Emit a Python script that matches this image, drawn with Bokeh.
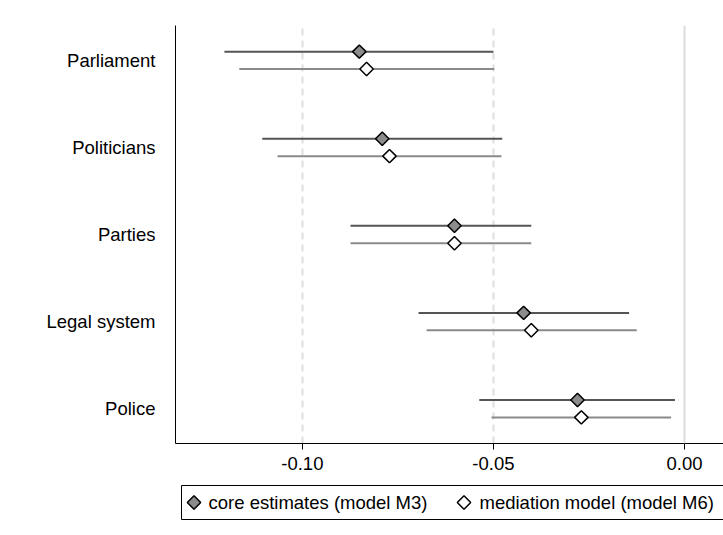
import math
from bokeh.plotting import figure
from bokeh.layouts import column
from bokeh.models import ColumnDataSource, Range1d, FixedTicker, Span
from bokeh.core.properties import value
from bokeh.embed import file_html
from bokeh.resources import INLINE

categories = ["Parliament", "Politicians", "Parties", "Legal system", "Police"]
core_est = [-0.0851, -0.0791, -0.0602, -0.0421, -0.0280]
core_lo = [-0.1204, -0.1105, -0.0874, -0.0696, -0.0537]
core_hi = [-0.0500, -0.0477, -0.0401, -0.0145, -0.0025]
med_est = [-0.0832, -0.0772, -0.0602, -0.0401, -0.0270]
med_lo = [-0.1165, -0.1065, -0.0874, -0.0675, -0.0505]
med_hi = [-0.0498, -0.0479, -0.0401, -0.0125, -0.0035]
series_labels = ["core estimates (model M3)", "mediation model (model M6)"]
x_ticks = [-0.10, -0.05, 0.00]
x_tick_labels = ["-0.10", "-0.05", "0.00"]

n = len(categories)
ypos = [n - i for i in range(n)]
off = 0.1

core_src = ColumnDataSource(dict(y=[v + off for v in ypos], est=core_est, lo=core_lo, hi=core_hi))
med_src = ColumnDataSource(dict(y=[v - off for v in ypos], est=med_est, lo=med_lo, hi=med_hi))

FONT = "Liberation Sans"
FS = "18.5px"
CORE_FILL = "#8c8c8c"
CORE_LINE = "#555555"
MED_LINE = "#8a8a8a"
MSIZE = 9.5
ANG = math.pi / 4

W = 723
LEFT = 175
H_MAIN = 480
H_LEG = 535 - H_MAIN

p = figure(width=W, height=H_MAIN, output_backend="svg", toolbar_location=None,
           x_range=Range1d(-0.1332, 0.0102), y_range=Range1d(0.6, 5.4),
           min_border_left=LEFT, min_border_right=0, min_border_top=25, min_border_bottom=37)
p.outline_line_color = None
p.background_fill_color = "white"
p.border_fill_color = "white"

# grid
p.ygrid.visible = False
p.xgrid.ticker = FixedTicker(ticks=[t for t in x_ticks if t != 0])
p.xgrid.grid_line_color = "#dedede"
p.xgrid.grid_line_width = 2
p.xgrid.grid_line_dash = "7 5"
p.add_layout(Span(location=0.0, dimension="height", line_color="#dcdcdc", line_width=2))

# CIs and point estimates
p.segment(x0="lo", x1="hi", y0="y", y1="y", source=core_src, line_color=CORE_LINE, line_width=2)
p.segment(x0="lo", x1="hi", y0="y", y1="y", source=med_src, line_color=MED_LINE, line_width=2)
p.scatter(x="est", y="y", source=core_src, marker="square", size=MSIZE, angle=ANG,
          fill_color=CORE_FILL, line_color="black", line_width=1.5)
p.scatter(x="est", y="y", source=med_src, marker="square", size=MSIZE, angle=ANG,
          fill_color="white", line_color="black", line_width=1.5)

# axes
p.xaxis.ticker = FixedTicker(ticks=x_ticks)
p.xaxis.major_label_overrides = {t: l for t, l in zip(x_ticks, x_tick_labels)}
p.xaxis.minor_tick_line_color = None
p.xaxis.major_tick_out = 6
p.xaxis.major_tick_in = 0
p.xaxis.major_label_standoff = 7
p.xaxis.major_label_text_font = FONT
p.xaxis.major_label_text_font_size = FS
p.xaxis.major_label_text_color = "black"
p.xaxis.axis_line_color = "black"

p.yaxis.ticker = FixedTicker(ticks=ypos)
p.yaxis.major_label_overrides = {y: c for y, c in zip(ypos, categories)}
p.yaxis.minor_tick_line_color = None
p.yaxis.major_tick_line_color = None
p.yaxis.major_tick_out = 0
p.yaxis.major_tick_in = 0
p.yaxis.major_label_standoff = 20
p.yaxis.major_label_text_font = FONT
p.yaxis.major_label_text_font_size = FS
p.yaxis.major_label_text_color = "black"
p.yaxis.axis_line_color = "black"

# legend drawn in its own strip (pixel coordinates, y downward), frame aligned with main plot
lf = figure(width=W, height=H_LEG, output_backend="svg", toolbar_location=None,
            x_range=Range1d(LEFT, W), y_range=Range1d(H_LEG, 0),
            min_border_left=LEFT, min_border_right=0, min_border_top=0, min_border_bottom=0)
lf.axis.visible = False
lf.grid.visible = False
lf.outline_line_color = None
lf.background_fill_color = "white"
lf.border_fill_color = "white"

box_top, box_bot = 5, 39
ymid = (box_top + box_bot) / 2
lf.quad(left=[181], right=[740], top=[box_top], bottom=[box_bot],
        fill_color=None, line_color="black", line_width=1)
leg_src = ColumnDataSource(dict(x=[193.5, 463.5], y=[ymid, ymid], fill=[CORE_FILL, "white"],
                                tx=[208, 479], label=series_labels))
lf.scatter(x="x", y="y", source=leg_src, marker="square", size=MSIZE, angle=ANG,
           fill_color="fill", line_color="black", line_width=1.5)
lf.text(x="tx", y="y", text="label", source=leg_src, text_font=value(FONT),
        text_font_size=FS, text_baseline="middle", text_align="left", text_color="black")

layout = column(p, lf, spacing=0)
open("out.html", "w").write(file_html(layout, INLINE))
